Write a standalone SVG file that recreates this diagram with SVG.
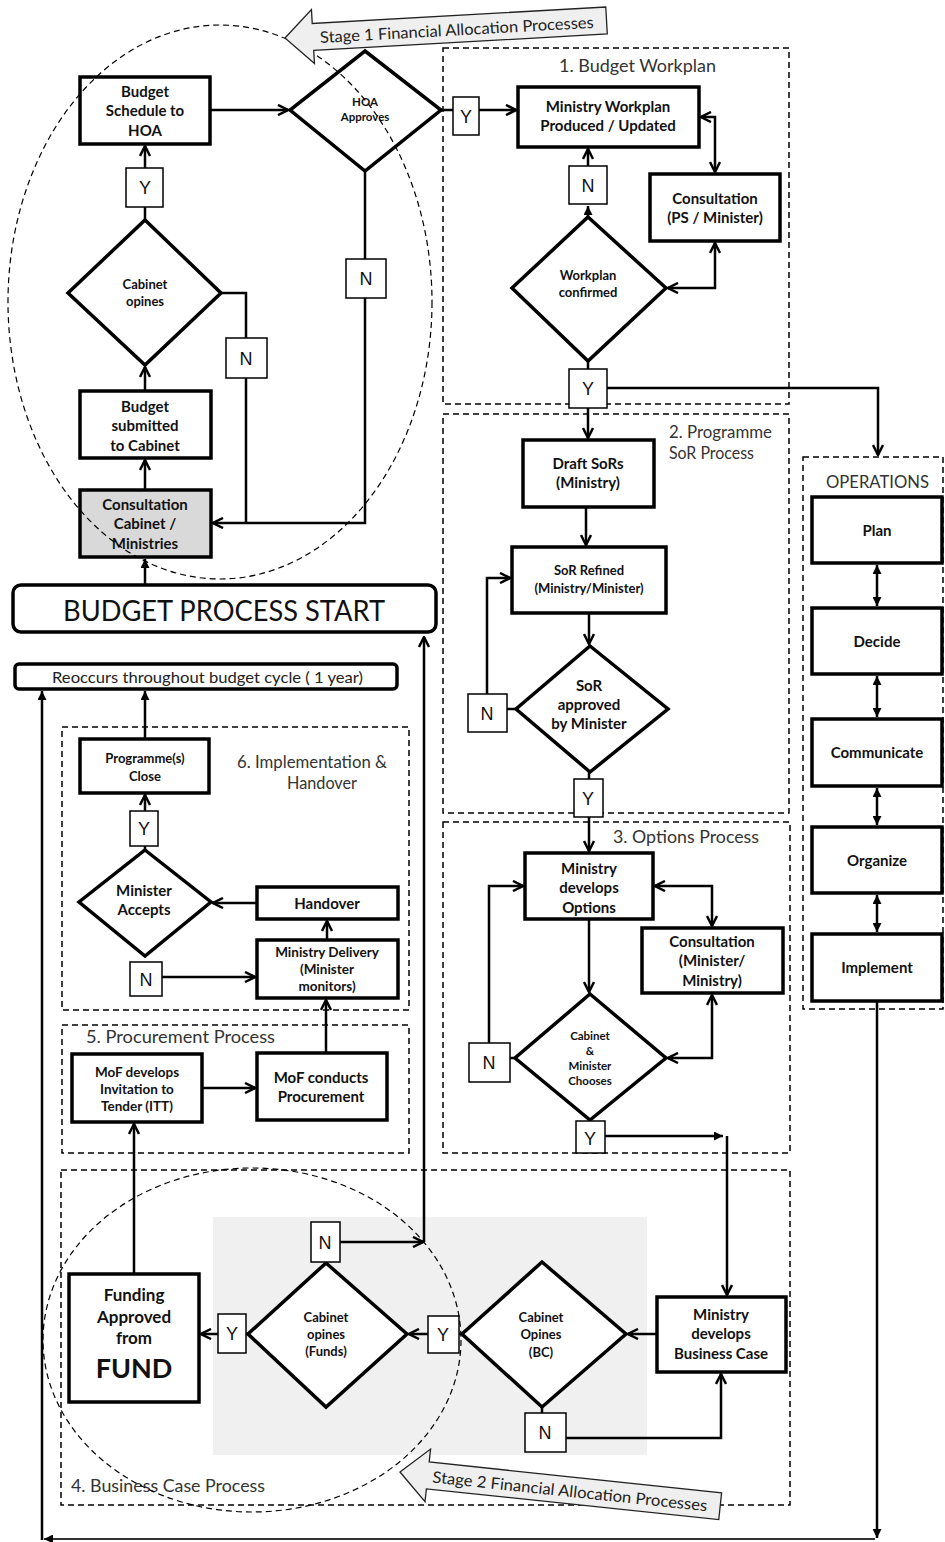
<svg xmlns="http://www.w3.org/2000/svg" width="945" height="1542" viewBox="0 0 945 1542">
  <defs>
    <style>
      .box { fill: #fff; stroke: #000; stroke-width: 3.5; }
      .grey { fill: #d9d9d9; stroke: #000; stroke-width: 3.5; }
      .lbl { fill: #fff; stroke: #000; stroke-width: 1.5; }
      .dash { fill: none; stroke: #000; stroke-width: 1.5; stroke-dasharray: 6 4; }
      .ell { fill: none; stroke: #000; stroke-width: 1.2; stroke-dasharray: 6 4; }
      .c { fill: none; stroke: #000; stroke-width: 2.5; }
      .thin { fill: none; stroke: #333; stroke-width: 1.8; }
      .t { font-family: Lato, "Liberation Sans", sans-serif; font-weight: 700; fill: #111; text-anchor: middle; }
      .yn { font-family: "Liberation Sans", Arial, sans-serif; font-size: 18px; fill: #111; text-anchor: middle; }
      .sec { font-family: Lato, "Liberation Sans", sans-serif; font-size: 18px; fill: #333; }
      .stage { fill: #efefef; stroke: #222; stroke-width: 1.3; }
    </style>
    <marker id="open" viewBox="0 0 12 12" refX="11" refY="6" markerWidth="12" markerHeight="12" markerUnits="userSpaceOnUse" orient="auto-start-reverse">
      <path d="M1,1 L11,6 L1,11" fill="none" stroke="#000" stroke-width="2.5"/>
    </marker>
    <marker id="solid" viewBox="0 0 10 10" refX="10" refY="5" markerWidth="9" markerHeight="9" markerUnits="userSpaceOnUse" orient="auto-start-reverse">
      <path d="M0,0 L10,5 L0,10 Z" fill="#000"/>
    </marker>
  </defs>

  <rect width="945" height="1542" fill="#fff"/>

  <!-- process sections -->
  <g id="sections">
    <rect class="dash" x="443" y="48" width="346" height="356"/>
    <text class="sec" x="559" y="72" textLength="157" lengthAdjust="spacingAndGlyphs">1. Budget Workplan</text>
    <rect class="dash" x="443" y="414" width="346" height="399"/>
    <text class="sec" x="669" y="438" textLength="103" lengthAdjust="spacingAndGlyphs">2. Programme</text>
    <text class="sec" x="669" y="459" textLength="85" lengthAdjust="spacingAndGlyphs">SoR Process</text>
    <rect class="dash" x="443" y="822" width="347" height="331"/>
    <text class="sec" x="613" y="843" textLength="146" lengthAdjust="spacingAndGlyphs">3. Options Process</text>
    <rect class="dash" x="803" y="457" width="140" height="552"/>
    <text class="sec" x="826" y="488" textLength="103" lengthAdjust="spacingAndGlyphs">OPERATIONS</text>
    <rect class="dash" x="62" y="727" width="347" height="283"/>
    <text class="sec" x="237" y="768" textLength="150" lengthAdjust="spacingAndGlyphs">6. Implementation &amp;</text>
    <text class="sec" x="287" y="789" textLength="70" lengthAdjust="spacingAndGlyphs">Handover</text>
    <rect class="dash" x="62" y="1025" width="347" height="128"/>
    <text class="sec" x="86" y="1043" textLength="189" lengthAdjust="spacingAndGlyphs">5. Procurement Process</text>
    <rect class="dash" x="61" y="1170" width="729" height="335"/>
    <text class="sec" x="71" y="1492" textLength="194" lengthAdjust="spacingAndGlyphs">4. Business Case Process</text>
    <rect x="213" y="1217" width="434" height="238" fill="#f0f0f0"/>
  </g>

  <!-- connectors -->
  <g id="connectors">
    <!-- stage 1 loop -->
    <line class="c" x1="210" y1="110" x2="288" y2="110" marker-end="url(#open)"/>
    <line class="c" x1="441" y1="110" x2="453" y2="110"/>
    <line class="c" x1="479" y1="110" x2="516" y2="110" marker-end="url(#open)"/>
    <line class="c" x1="145" y1="220" x2="145" y2="207"/>
    <line class="c" x1="145" y1="168" x2="145" y2="146" marker-end="url(#open)"/>
    <polyline class="c" points="221,293 246,293 246,338"/>
    <line class="c" x1="246" y1="378" x2="246" y2="523"/>
    <line class="c" x1="365" y1="171" x2="365" y2="259"/>
    <polyline class="c" points="365,298 365,523 213,523" marker-end="url(#open)"/>
    <line class="c" x1="145" y1="391" x2="145" y2="367" marker-end="url(#open)"/>
    <line class="c" x1="145" y1="490" x2="145" y2="460" marker-end="url(#open)"/>
    <line class="c" x1="145" y1="585" x2="145" y2="559" marker-end="url(#solid)"/>

    <!-- 1. budget workplan -->
    <polyline class="c" points="701,117 715,117 715,172" marker-start="url(#open)" marker-end="url(#open)"/>
    <polyline class="c" points="715,243 715,288 668,288" marker-start="url(#open)" marker-end="url(#open)"/>
    <line class="c" x1="588" y1="217" x2="588" y2="206" marker-end="url(#solid)"/>
    <line class="c" x1="588" y1="166" x2="588" y2="149" marker-end="url(#open)"/>
    <line class="c" x1="588" y1="361" x2="588" y2="369"/>
    <polyline class="c" points="607,388 878,388 878,455" marker-end="url(#open)"/>
    <line class="c" x1="588" y1="408" x2="588" y2="438" marker-end="url(#open)"/>

    <!-- 2. SoR -->
    <line class="c" x1="586" y1="507" x2="586" y2="545" marker-end="url(#open)"/>
    <line class="c" x1="589" y1="613" x2="589" y2="644" marker-end="url(#open)"/>
    <line class="c" x1="516" y1="709" x2="507" y2="709"/>
    <polyline class="c" points="487,694 487,578 510,578" marker-end="url(#open)"/>
    <line class="c" x1="589" y1="772" x2="589" y2="779"/>
    <line class="c" x1="589" y1="817" x2="589" y2="851" marker-end="url(#open)"/>

    <!-- 3. options -->
    <polyline class="c" points="655,886 712,886 712,926" marker-start="url(#open)" marker-end="url(#open)"/>
    <polyline class="c" points="712,995 712,1058 668,1058" marker-start="url(#open)" marker-end="url(#open)"/>
    <line class="c" x1="589" y1="919" x2="589" y2="992" marker-end="url(#open)"/>
    <line class="c" x1="515" y1="1058" x2="510" y2="1058"/>
    <polyline class="c" points="489,1043 489,886 523,886" marker-end="url(#open)"/>
    <line class="c" x1="590" y1="1120" x2="590" y2="1121"/>
    <line class="c" x1="605" y1="1136" x2="723" y2="1136" marker-end="url(#solid)"/>
    <line class="c" x1="727" y1="1136" x2="727" y2="1295" marker-end="url(#open)"/>

    <!-- 4. business case -->
    <line class="c" x1="657" y1="1334" x2="628" y2="1334" marker-end="url(#open)"/>
    <line class="c" x1="542" y1="1407" x2="542" y2="1413"/>
    <polyline class="c" points="566,1438 721,1438 721,1374" marker-end="url(#open)"/>
    <line class="c" x1="462" y1="1334" x2="459" y2="1334"/>
    <line class="c" x1="428" y1="1334" x2="409" y2="1334" marker-end="url(#open)"/>
    <line class="c" x1="248" y1="1334" x2="246" y2="1334"/>
    <line class="c" x1="218" y1="1334" x2="201" y2="1334" marker-end="url(#open)"/>
    <line class="c" x1="340" y1="1242" x2="423" y2="1242" marker-end="url(#open)"/>
    <line class="c" x1="424" y1="1242" x2="424" y2="637" marker-end="url(#open)"/>
    <line class="c" x1="134" y1="1274" x2="134" y2="1124" marker-end="url(#open)"/>

    <!-- 5. procurement -->
    <line class="c" x1="202" y1="1088" x2="255" y2="1088" marker-end="url(#open)"/>
    <line class="c" x1="326" y1="1053" x2="326" y2="1000" marker-end="url(#open)"/>

    <!-- 6. implementation -->
    <line class="c" x1="327" y1="940" x2="327" y2="921" marker-end="url(#open)"/>
    <line class="c" x1="257" y1="903" x2="213" y2="903" marker-end="url(#open)"/>
    <line class="c" x1="162" y1="977" x2="255" y2="977" marker-end="url(#open)"/>
    <line class="c" x1="145" y1="850" x2="145" y2="846"/>
    <line class="c" x1="145" y1="811" x2="145" y2="795" marker-end="url(#open)"/>
    <line class="c" x1="145" y1="739" x2="145" y2="691" marker-end="url(#solid)"/>

    <!-- operations -->
    <line class="c" x1="877" y1="565" x2="877" y2="606" marker-start="url(#solid)" marker-end="url(#solid)"/>
    <line class="c" x1="877" y1="676" x2="877" y2="717" marker-start="url(#solid)" marker-end="url(#solid)"/>
    <line class="c" x1="877" y1="788" x2="877" y2="825" marker-start="url(#solid)" marker-end="url(#solid)"/>
    <line class="c" x1="877" y1="895" x2="877" y2="932" marker-start="url(#solid)" marker-end="url(#solid)"/>

    <!-- yearly return loop -->
    <line class="c" x1="877" y1="1001" x2="877" y2="1538" marker-end="url(#solid)"/>
    <line class="thin" x1="875" y1="1539" x2="44" y2="1539" marker-end="url(#solid)"/>
    <line class="c" x1="42" y1="1540" x2="42" y2="691" marker-end="url(#solid)"/>
  </g>

  <!-- stage 1 nodes -->
  <g id="budget-start">
    <rect class="box" x="13" y="585" width="423" height="47" rx="8" stroke-width="3"/>
    <text x="224" y="621" font-family="Lato, 'Liberation Sans', sans-serif" font-size="28" fill="#111" text-anchor="middle" textLength="322" lengthAdjust="spacingAndGlyphs">BUDGET PROCESS START</text>
  </g>
  <g id="reoccurs">
    <rect class="box" x="15" y="664" width="382" height="25" rx="4" stroke-width="2.5"/>
    <text x="52" y="683" font-family="Lato, 'Liberation Sans', sans-serif" font-size="16" fill="#222" textLength="311" lengthAdjust="spacingAndGlyphs">Reoccurs throughout budget cycle ( 1 year)</text>
  </g>
  <g id="consult-cabinet">
    <rect class="grey" x="80" y="490" width="131" height="67"/>
    <text class="t" font-size="15"><tspan x="145" y="510">Consultation</tspan><tspan x="145" y="529">Cabinet /</tspan><tspan x="145" y="549">Ministries</tspan></text>
  </g>
  <g id="budget-submitted">
    <rect class="box" x="80" y="391" width="131" height="67"/>
    <text class="t" font-size="15"><tspan x="145" y="412">Budget</tspan><tspan x="145" y="431">submitted</tspan><tspan x="145" y="451">to Cabinet</tspan></text>
  </g>
  <g id="cabinet-opines">
    <polygon class="box" points="145,220 221,293 145,365 68,293"/>
    <text class="t" font-size="13"><tspan x="145" y="289">Cabinet</tspan><tspan x="145" y="306">opines</tspan></text>
  </g>
  <g id="y-cabinet">
    <rect class="lbl" x="126" y="168" width="37" height="39"/>
    <text class="yn" x="145" y="194">Y</text>
  </g>
  <g id="n-cabinet">
    <rect class="lbl" x="226" y="338" width="41" height="40"/>
    <text class="yn" x="246" y="365">N</text>
  </g>
  <g id="budget-schedule">
    <rect class="box" x="80" y="77" width="130" height="67"/>
    <text class="t" font-size="15"><tspan x="145" y="97">Budget</tspan><tspan x="145" y="116">Schedule to</tspan><tspan x="145" y="136">HOA</tspan></text>
  </g>
  <g id="hoa-approves">
    <polygon class="box" points="365,51 441,110 365,171 290,110"/>
    <text class="t" font-size="11.5" fill="#333"><tspan x="365" y="106">HOA</tspan><tspan x="365" y="121">Approves</tspan></text>
  </g>
  <g id="n-hoa">
    <rect class="lbl" x="346" y="259" width="40" height="39"/>
    <text class="yn" x="366" y="285">N</text>
  </g>
  <g id="y-hoa">
    <rect class="lbl" x="453" y="97" width="26" height="38"/>
    <text class="yn" x="466" y="123">Y</text>
  </g>

  <!-- 1. budget workplan -->
  <g id="ministry-workplan">
    <rect class="box" x="518" y="87" width="181" height="60"/>
    <text class="t" font-size="15"><tspan x="608" y="112">Ministry Workplan</tspan><tspan x="608" y="131">Produced / Updated</tspan></text>
  </g>
  <g id="consult-ps">
    <rect class="box" x="650" y="174" width="130" height="67"/>
    <text class="t" font-size="15"><tspan x="715" y="204">Consultation</tspan><tspan x="715" y="223">(PS / Minister)</tspan></text>
  </g>
  <g id="workplan-confirmed">
    <polygon class="box" points="588,217 666,288 588,361 512,288"/>
    <text class="t" font-size="13"><tspan x="588" y="280">Workplan</tspan><tspan x="588" y="297">confirmed</tspan></text>
  </g>
  <g id="n-workplan">
    <rect class="lbl" x="569" y="166" width="38" height="38"/>
    <text class="yn" x="588" y="192">N</text>
  </g>
  <g id="y-workplan">
    <rect class="lbl" x="569" y="369" width="38" height="39"/>
    <text class="yn" x="588" y="395">Y</text>
  </g>

  <!-- 2. programme SoR -->
  <g id="draft-sors">
    <rect class="box" x="523" y="440" width="131" height="67"/>
    <text class="t" font-size="15"><tspan x="588" y="469">Draft SoRs</tspan><tspan x="588" y="488">(Ministry)</tspan></text>
  </g>
  <g id="sor-refined">
    <rect class="box" x="512" y="547" width="154" height="66"/>
    <text class="t" font-size="13"><tspan x="589" y="575">SoR Refined</tspan><tspan x="589" y="593">(Ministry/Minister)</tspan></text>
  </g>
  <g id="sor-approved">
    <polygon class="box" points="590,646 668,709 590,772 516,709"/>
    <text class="t" font-size="15"><tspan x="589" y="691">SoR</tspan><tspan x="589" y="710">approved</tspan><tspan x="589" y="729">by Minister</tspan></text>
  </g>
  <g id="n-sor">
    <rect class="lbl" x="468" y="694" width="39" height="38"/>
    <text class="yn" x="487" y="720">N</text>
  </g>
  <g id="y-sor">
    <rect class="lbl" x="574" y="779" width="29" height="38"/>
    <text class="yn" x="588" y="805">Y</text>
  </g>

  <!-- 3. options -->
  <g id="develops-options">
    <rect class="box" x="525" y="853" width="128" height="66"/>
    <text class="t" font-size="15"><tspan x="589" y="874">Ministry</tspan><tspan x="589" y="893">develops</tspan><tspan x="589" y="913">Options</tspan></text>
  </g>
  <g id="consult-minister">
    <rect class="box" x="642" y="928" width="141" height="65"/>
    <text class="t" font-size="15"><tspan x="712" y="947">Consultation</tspan><tspan x="712" y="966">(Minister/</tspan><tspan x="712" y="986">Ministry)</tspan></text>
  </g>
  <g id="cabinet-minister-chooses">
    <polygon class="box" points="590,994 666,1058 590,1120 515,1058"/>
    <text class="t" font-size="11.5" fill="#222"><tspan x="590" y="1040">Cabinet</tspan><tspan x="590" y="1055">&amp;</tspan><tspan x="590" y="1070">Minister</tspan><tspan x="590" y="1085">Chooses</tspan></text>
  </g>
  <g id="n-options">
    <rect class="lbl" x="469" y="1043" width="41" height="39"/>
    <text class="yn" x="489" y="1069">N</text>
  </g>
  <g id="y-options">
    <rect class="lbl" x="576" y="1121" width="29" height="32"/>
    <text class="yn" x="590" y="1145">Y</text>
  </g>

  <!-- operations -->
  <g id="op-plan">
    <rect class="box" x="812" y="497" width="130" height="66"/>
    <text class="t" font-size="15" x="877" y="536">Plan</text>
  </g>
  <g id="op-decide">
    <rect class="box" x="812" y="608" width="130" height="66"/>
    <text class="t" font-size="15" x="877" y="647">Decide</text>
  </g>
  <g id="op-communicate">
    <rect class="box" x="812" y="719" width="130" height="67"/>
    <text class="t" font-size="15" x="877" y="758">Communicate</text>
  </g>
  <g id="op-organize">
    <rect class="box" x="812" y="827" width="130" height="66"/>
    <text class="t" font-size="15" x="877" y="866">Organize</text>
  </g>
  <g id="op-implement">
    <rect class="box" x="812" y="934" width="130" height="67"/>
    <text class="t" font-size="15" x="877" y="973">Implement</text>
  </g>

  <!-- 6. implementation & handover -->
  <g id="programme-close">
    <rect class="box" x="80" y="739" width="129" height="54"/>
    <text class="t" font-size="13"><tspan x="145" y="763">Programme(s)</tspan><tspan x="145" y="781">Close</tspan></text>
  </g>
  <g id="y-accepts">
    <rect class="lbl" x="130" y="811" width="28" height="35"/>
    <text class="yn" x="144" y="835" font-size="16">Y</text>
  </g>
  <g id="minister-accepts">
    <polygon class="box" points="145,850 211,902 145,956 79,902"/>
    <text class="t" font-size="15"><tspan x="144" y="896">Minister</tspan><tspan x="144" y="915">Accepts</tspan></text>
  </g>
  <g id="handover">
    <rect class="box" x="257" y="887" width="141" height="32"/>
    <text class="t" font-size="15" x="327" y="909">Handover</text>
  </g>
  <g id="ministry-delivery">
    <rect class="box" x="257" y="940" width="141" height="58"/>
    <text class="t" font-size="13.5"><tspan x="327" y="957">Ministry Delivery</tspan><tspan x="327" y="974">(Minister</tspan><tspan x="327" y="991">monitors)</tspan></text>
  </g>
  <g id="n-accepts">
    <rect class="lbl" x="130" y="962" width="32" height="34"/>
    <text class="yn" x="146" y="986" font-size="16">N</text>
  </g>

  <!-- 5. procurement -->
  <g id="mof-itt">
    <rect class="box" x="72" y="1054" width="130" height="68"/>
    <text class="t" font-size="13.5"><tspan x="137" y="1077">MoF develops</tspan><tspan x="137" y="1094">Invitation to</tspan><tspan x="137" y="1111">Tender (ITT)</tspan></text>
  </g>
  <g id="mof-procurement">
    <rect class="box" x="257" y="1053" width="130" height="67"/>
    <text class="t" font-size="15"><tspan x="321" y="1083">MoF conducts</tspan><tspan x="321" y="1102">Procurement</tspan></text>
  </g>

  <!-- 4. business case -->
  <g id="business-case">
    <rect class="box" x="657" y="1297" width="129" height="75"/>
    <text class="t" font-size="15"><tspan x="721" y="1320">Ministry</tspan><tspan x="721" y="1339">develops</tspan><tspan x="721" y="1359">Business Case</tspan></text>
  </g>
  <g id="cabinet-opines-bc">
    <polygon class="box" points="542,1262 626,1334 542,1407 462,1334"/>
    <text class="t" font-size="13"><tspan x="541" y="1322">Cabinet</tspan><tspan x="541" y="1339">Opines</tspan><tspan x="541" y="1357">(BC)</tspan></text>
  </g>
  <g id="n-bc">
    <rect class="lbl" x="525" y="1413" width="41" height="39"/>
    <text class="yn" x="545" y="1439">N</text>
  </g>
  <g id="y-bc">
    <rect class="lbl" x="428" y="1316" width="31" height="37"/>
    <text class="yn" x="443" y="1341">Y</text>
  </g>
  <g id="cabinet-opines-funds">
    <polygon class="box" points="326,1263 407,1334 326,1407 248,1334"/>
    <text class="t" font-size="13"><tspan x="326" y="1322">Cabinet</tspan><tspan x="326" y="1339">opines</tspan><tspan x="326" y="1356">(Funds)</tspan></text>
  </g>
  <g id="n-funds">
    <rect class="lbl" x="311" y="1222" width="29" height="40"/>
    <text class="yn" x="325" y="1249">N</text>
  </g>
  <g id="y-funds">
    <rect class="lbl" x="218" y="1314" width="28" height="39"/>
    <text class="yn" x="232" y="1340">Y</text>
  </g>
  <g id="funding-approved">
    <rect class="box" x="69" y="1274" width="130" height="128"/>
    <text class="t" font-size="17"><tspan x="134" y="1301">Funding</tspan><tspan x="134" y="1323">Approved</tspan><tspan x="134" y="1344">from</tspan><tspan x="134" y="1378" font-size="27">FUND</tspan></text>
  </g>

  <!-- financial allocation stages -->
  <g id="stage1-zone">
    <ellipse class="ell" cx="220" cy="302" rx="212" ry="277"/>
  </g>
  <g id="stage2-zone">
    <ellipse class="ell" cx="252" cy="1340" rx="209" ry="172"/>
  </g>
  <g id="stage1-arrow" transform="rotate(-3.2 285 38)">
    <polygon class="stage" points="285,38 313,11 313,25 607,25 607,52 313,52 313,65"/>
    <text x="320" y="45" font-family="Lato, 'Liberation Sans', sans-serif" font-size="16" fill="#222" textLength="274" lengthAdjust="spacingAndGlyphs">Stage 1 Financial Allocation Processes</text>
  </g>
  <g id="stage2-arrow" transform="rotate(6 400 1472)">
    <polygon class="stage" points="400,1472 428,1446 428,1459 722,1459 722,1486 428,1486 428,1499"/>
    <text x="433" y="1479" font-family="Lato, 'Liberation Sans', sans-serif" font-size="16" fill="#222" textLength="276" lengthAdjust="spacingAndGlyphs">Stage 2 Financial Allocation Processes</text>
  </g>
</svg>
